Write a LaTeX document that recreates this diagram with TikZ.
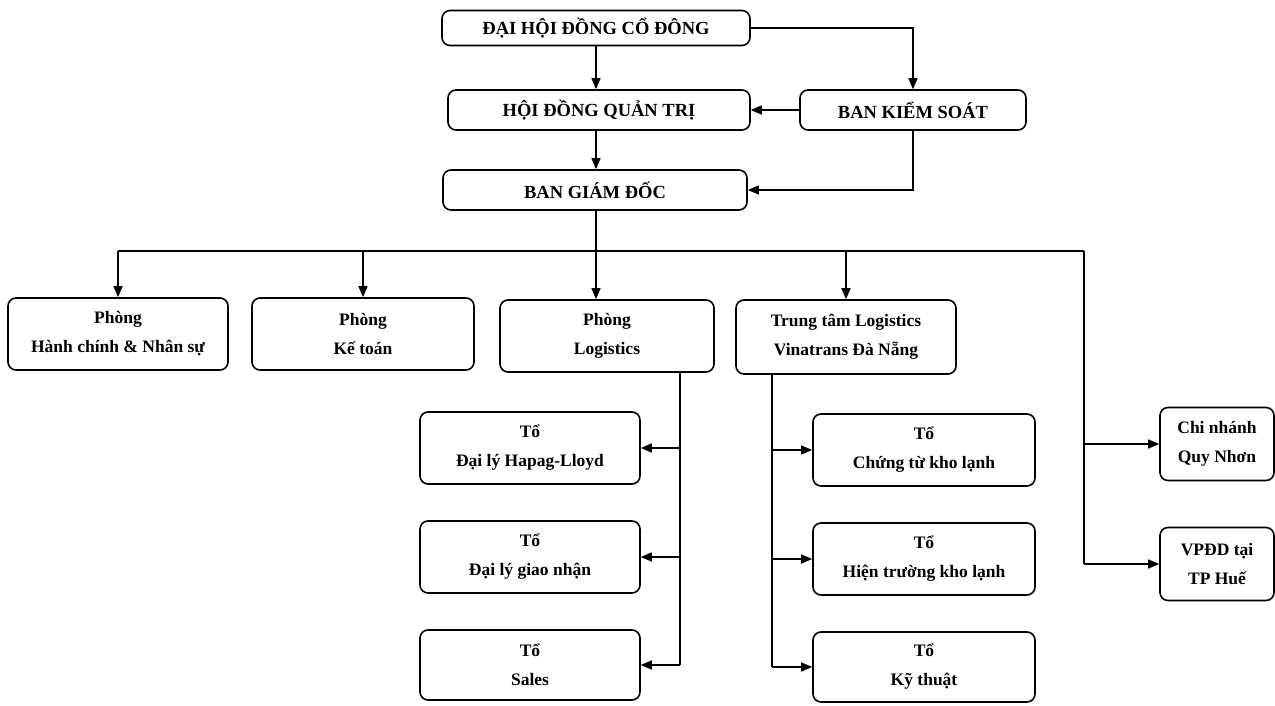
\documentclass[tikz,border=0pt]{standalone}
\usepackage{fontspec}
\setmainfont{Liberation Serif}
\usetikzlibrary{arrows.meta}
\begin{document}
\begin{tikzpicture}[x=1pt,y=-1pt,
  box/.style={draw, line width=1.6pt, rounded corners=8pt, align=center, inner sep=0pt,
    font=\bfseries\fontsize{17.5}{29}\selectfont},
  topbox/.style={box, font=\bfseries\fontsize{18.5}{20}\selectfont},
  conn/.style={line width=1.4pt},
  arr/.style={conn, -{Triangle[length=11pt,width=9pt]}}]
\useasboundingbox (0,0) rectangle (1275,706);
% top level
\node[topbox, minimum width=308pt, minimum height=35pt] (dh) at (596,28) {ĐẠI HỘI ĐỒNG CỔ ĐÔNG};
\node[topbox, minimum width=302pt, minimum height=40pt] (hd) at (599,110) {HỘI ĐỒNG QUẢN TRỊ};
\node[topbox, minimum width=226pt, minimum height=40pt] (bks) at (913,110) {BAN KIỂM SOÁT};
\node[topbox, minimum width=304pt, minimum height=40pt] (bgd) at (595,190) {BAN GIÁM ĐỐC};
% departments
\node[box, minimum width=220pt, minimum height=72pt] (hc) at (118,334) {Phòng\\Hành chính \& Nhân sự};
\node[box, minimum width=222pt, minimum height=72pt] (kt) at (363,334) {Phòng\\Kế toán};
\node[box, minimum width=214pt, minimum height=72pt] (log) at (607,336) {Phòng\\Logistics};
\node[box, minimum width=220pt, minimum height=74pt] (tt) at (846,337) {Trung tâm Logistics\\Vinatrans Đà Nẵng};
% teams under Logistics
\node[box, minimum width=220pt, minimum height=72pt] (t1) at (530,448) {Tổ\\Đại lý Hapag-Lloyd};
\node[box, minimum width=220pt, minimum height=72pt] (t2) at (530,557) {Tổ\\Đại lý giao nhận};
\node[box, minimum width=220pt, minimum height=70pt] (t3) at (530,665) {Tổ\\Sales};
% teams under Trung tam
\node[box, minimum width=222pt, minimum height=72pt] (u1) at (924,450) {Tổ\\Chứng từ kho lạnh};
\node[box, minimum width=222pt, minimum height=72pt] (u2) at (924,559) {Tổ\\Hiện trường kho lạnh};
\node[box, minimum width=222pt, minimum height=70pt] (u3) at (924,667) {Tổ\\Kỹ thuật};
% branches
\node[box, minimum width=114pt, minimum height=73pt] (cn) at (1217,444) {Chi nhánh\\Quy Nhơn};
\node[box, minimum width=114pt, minimum height=73pt] (vp) at (1217,564) {VPĐD tại\\TP Huế};
% top connectors
\draw[arr] (dh.south) -- (dh.south |- hd.north);
\draw[arr] (dh.east) -| (bks.north);
\draw[arr] (bks.west) -- (bks.west -| hd.east);
\draw[arr] (hd.south -| dh.south) -- (dh.south |- bgd.north);
\draw[arr] (bks.south) |- (bgd.east);
% bus
\coordinate (busL) at (118,251);
\coordinate (busR) at (1084,251);
\draw[conn] (bgd.south -| dh.south) -- (dh.south |- busL);
\draw[conn] (busL) -- (busR);
\draw[arr] (busL) -- (hc.north);
\draw[arr] (kt.north |- busL) -- (kt.north);
\draw[arr] (dh.south |- busL) -- (dh.south |- log.north);
\draw[arr] (tt.north |- busL) -- (tt.north);
% logistics branch
\coordinate (lv) at (680,665);
\draw[conn] (lv |- log.south) -- (lv);
\draw[arr] (lv |- t1.east) -- (t1.east);
\draw[arr] (lv |- t2.east) -- (t2.east);
\draw[arr] (lv) -- (t3.east);
% trung tam branch
\coordinate (tv) at (772,667);
\draw[conn] (tv |- tt.south) -- (tv);
\draw[arr] (tv |- u1.west) -- (u1.west);
\draw[arr] (tv |- u2.west) -- (u2.west);
\draw[arr] (tv) -- (u3.west);
% right branch
\coordinate (rv) at (1084,564);
\draw[conn] (busR) -- (rv);
\draw[arr] (rv |- cn.west) -- (cn.west);
\draw[arr] (rv) -- (vp.west);
\end{tikzpicture}
\end{document}
